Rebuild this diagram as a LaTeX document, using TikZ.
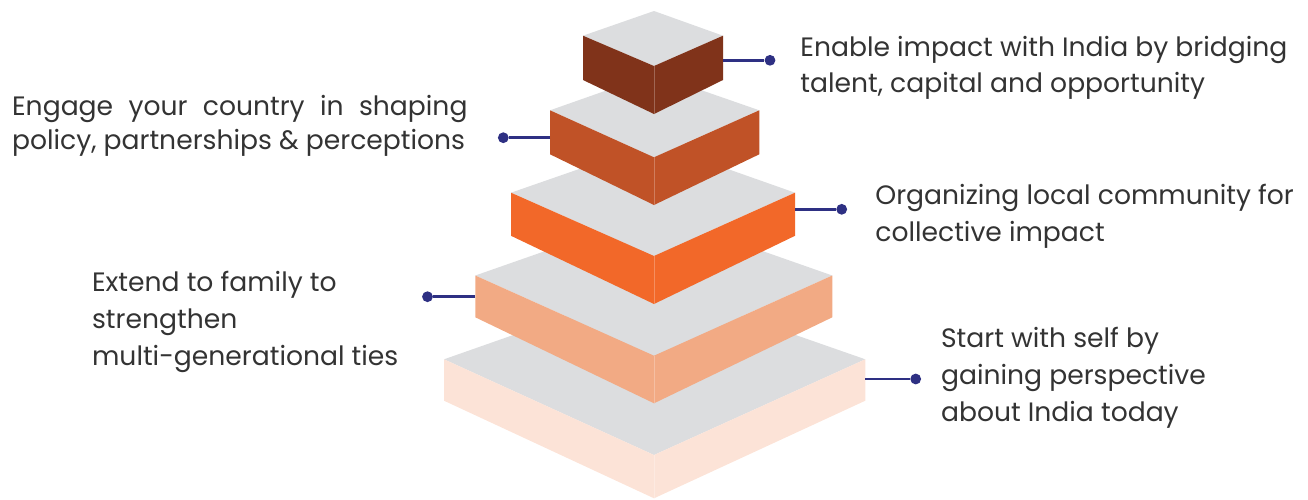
\documentclass[tikz,border=0pt]{standalone}
\usepackage{fontspec}
\setmainfont{Poppins}
\definecolor{topgray}{HTML}{DCDDDF}
\definecolor{lvlone}{HTML}{FCE3D7}
\definecolor{lvltwo}{HTML}{F2AA84}
\definecolor{lvlthree}{HTML}{F26829}
\definecolor{lvlfour}{HTML}{C05227}
\definecolor{lvlfive}{HTML}{80331A}
\definecolor{navy}{HTML}{2E3083}
\definecolor{txtgray}{HTML}{333333}
% #1 left, #2 right, #3 back, #4 side top, #5 front top, #6 side bottom, #7 front bottom, #8 colour
\newcommand{\pyrlayer}[8]{%
  \fill[topgray] (#1,#4) -- (654,#3) -- (#2,#4) -- (654,#5) -- cycle;
  \fill[#8] (#1,#4) -- (654,#5) -- (654,#7) -- (#1,#6) -- cycle;
  \fill[#8] (#2,#4) -- (654,#5) -- (654,#7) -- (#2,#6) -- cycle;
  \draw[#8!75!white,line width=0.4pt] (654,#5) -- (654,#7);}
\begin{document}
\begin{tikzpicture}[x=0.5pt,y=-0.5pt,
  lbl/.style={anchor=base west,inner sep=0pt,align=left,text=txtgray,font=\fontsize{13.3}{18.5}\selectfont},
  bullet/.style={circle,fill=navy,inner sep=0pt,minimum size=5.4pt},
  leader/.style={draw=navy,line width=1.3pt}]
\useasboundingbox (0,0) rectangle (1308,499);

% layers, bottom first
\pyrlayer{444}{865.3}{285.6}{359.3}{455}{400.7}{498.3}{lvlone}
\pyrlayer{475.3}{832.3}{213}{275.5}{355.7}{317.3}{403.3}{lvltwo}
\pyrlayer{511}{795}{143}{192.7}{256}{235.8}{304}{lvlthree}
\pyrlayer{550}{759.3}{73.7}{110.3}{157.3}{154.3}{205}{lvlfour}
\pyrlayer{583}{723}{11}{35.7}{66}{80}{114}{lvlfive}

\coordinate (e5) at (722.7,60.3);
\coordinate (e4) at (550,137.7);
\coordinate (e3) at (795,209.3);
\coordinate (e2) at (475.3,296.7);
\coordinate (e1) at (865.3,379);

\node (d5) [bullet] at (770,60.3) {};
\node (d4) [bullet] at (503.3,137.7) {};
\node (d3) [bullet] at (841.7,209.3) {};
\node (d2) [bullet] at (427.5,296.7) {};
\node (d1) [bullet] at (915.7,379) {};

\draw[leader] (e5) -- (d5);
\draw[leader] (e4) -- (d4);
\draw[leader] (e3) -- (d3);
\draw[leader] (e2) -- (d2);
\draw[leader] (e1) -- (d1);

% base anchor sits on the last line
\node (t5) [lbl,font=\fontsize{13.3}{17.8}\selectfont] at (800,92.5) {Enable impact with India by bridging\\talent, capital and opportunity};
\node (t4) [lbl,font=\fontsize{13.3}{17}\selectfont] at (11.7,149) {\makebox[227.7pt][s]{Engage your country in shaping}\\policy, partnerships \& perceptions};
\node (t3) [lbl] at (875,241.7) {Organizing local community for\\collective impact};
\node (t2) [lbl] at (91.7,365) {Extend to family to\\strengthen\\multi-generational ties};
\node (t1) [lbl] at (940.7,421.7) {Start with self by\\gaining perspective\\about India today};

\end{tikzpicture}
\end{document}
